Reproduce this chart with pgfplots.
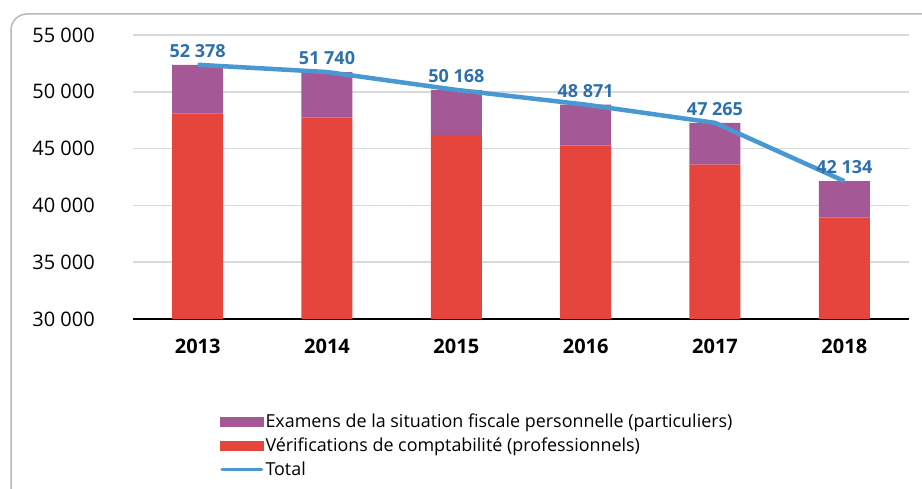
\documentclass[border=0pt]{standalone}
\usepackage{pgfplots}
\pgfplotsset{compat=1.18}
\usepackage{fontspec}
\setmainfont{Open Sans}
\definecolor{cpurple}{RGB}{165,88,150}
\definecolor{cred}{RGB}{230,69,62}
\definecolor{cline}{RGB}{74,152,210}
\definecolor{clabel}{RGB}{46,112,172}
\begin{document}
\begin{tikzpicture}[x=1pt,y=1pt]
\useasboundingbox (0,0) rectangle (922,488);
\begin{scope}
\clip (0,0) rectangle (922,488);
\draw[gray!55, line width=1.5pt, rounded corners=16pt] (11,-30) rectangle (960,474);
\end{scope}
\begin{axis}[
  at={(133pt,169pt)}, anchor=south west,
  scale only axis, width=776pt, height=284pt,
  xmin=-0.5, xmax=5.5, ymin=30000, ymax=55000,
  scaled y ticks=false,
  ybar stacked, bar width=51pt,
  axis x line*=bottom, axis y line*=left,
  x axis line style={black, line width=1.5pt},
  y axis line style={draw=none},
  major tick length=0pt,
  ymajorgrids, grid style={gray!30, line width=1.5pt},
  ytick={30000,35000,40000,45000,50000,55000},
  yticklabels={30 000,35 000,40 000,45 000,50 000,55 000},
  yticklabel style={anchor=east, inner sep=0pt, xshift=-38pt, font=\fontsize{20}{24}\selectfont},
  xtick={0,1,2,3,4,5},
  xticklabels={2013,2014,2015,2016,2017,2018},
  xticklabel style={anchor=north, inner sep=0pt, yshift=-19.5pt, font=\fontsize{20}{24}\selectfont\bfseries},
  legend style={draw=none, fill=none, at={(0.112,-0.326)}, anchor=north west, inner sep=0pt,
    font=\fontsize{17.9}{21}\selectfont, row sep=5pt},
  legend cell align=left,
]
\addplot[fill=cred, draw=none, forget plot] coordinates {(0,48100) (1,47720) (2,46200) (3,45260) (4,43600) (5,38950)};
\addplot[fill=cpurple, draw=none, forget plot] coordinates {(0,4278) (1,4020) (2,3968) (3,3611) (4,3665) (5,3184)};
\addlegendimage{legend image code/.code={\fill[cpurple] (0pt,-4.5pt) rectangle (43pt,4.5pt);}}
\addlegendentry{Examens de la situation fiscale personnelle (particuliers)}
\addlegendimage{legend image code/.code={\fill[cred] (0pt,-4.5pt) rectangle (43pt,4.5pt);}}
\addlegendentry{Vérifications de comptabilité (professionnels)}
\addlegendimage{legend image code/.code={\draw[cline, line width=3.5pt, line cap=round] (1.75pt,0pt) -- (41.25pt,0pt);}}
\addlegendentry{Total}
\end{axis}
\begin{axis}[
  at={(133pt,169pt)}, anchor=south west,
  scale only axis, width=776pt, height=284pt,
  xmin=-0.5, xmax=5.5, ymin=30000, ymax=55000,
  hide axis, clip=false,
]
\addplot[cline, line width=4.5pt, line join=round,
  nodes near coords, point meta=explicit symbolic,
  every node near coord/.append style={anchor=south, yshift=4pt, text=clabel,
    font=\fontsize{18}{21}\selectfont\bfseries, inner sep=1pt}]
  coordinates {(0,52378)[52 378] (1,51740)[51 740] (2,50168)[50 168] (3,48871)[48 871] (4,47265)[47 265] (5,42134)[42 134]};
\end{axis}
\end{tikzpicture}
\end{document}
